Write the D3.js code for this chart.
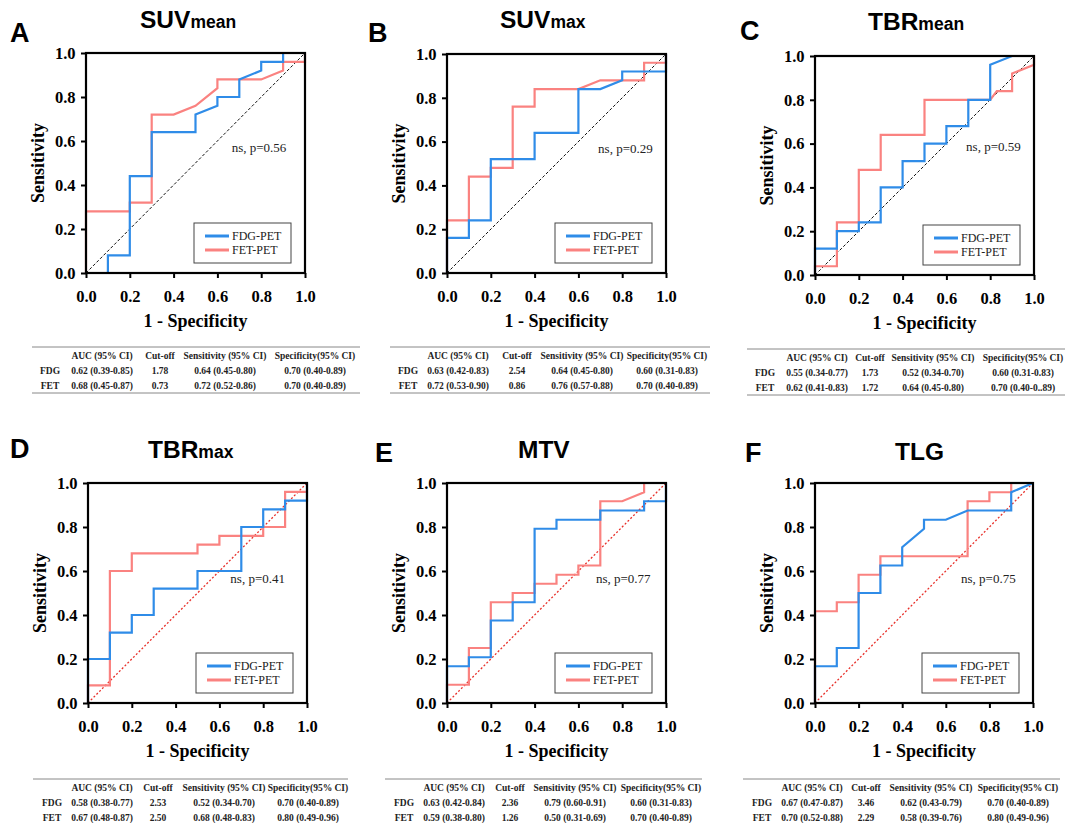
<!DOCTYPE html>
<html><head><meta charset="utf-8">
<script src="https://cdn.jsdelivr.net/npm/d3@7"></script>
<style>body{margin:0;background:#fff}svg{display:block}</style>
</head><body>
<svg id="c" width="1065" height="823"></svg>
<script>
// ---------- DATA ----------
const panelLetters = ["A","B","C","D","E","F"];
const titleMain = ["SUV","SUV","TBR","TBR","MTV","TLG"];
const titleSub  = ["mean","max","mean","max","",""];
const pValues   = ["ns, p=0.56","ns, p=0.29","ns, p=0.59","ns, p=0.41","ns, p=0.77","ns, p=0.75"];
const seriesNames = ["FDG-PET","FET-PET"];
const tickValues = [0,0.2,0.4,0.6,0.8,1.0];
const xLabel = "1 - Specificity";
const yLabel = "Sensitivity";

// ROC curves: [1-specificity, sensitivity]
const suvMeanFDG = [[0,0],[0.1,0],[0.1,0.08],[0.2,0.08],[0.2,0.44],[0.3,0.44],[0.3,0.64],[0.5,0.64],[0.5,0.72],[0.6,0.76],[0.6,0.80],[0.7,0.80],[0.7,0.88],[0.8,0.92],[0.8,0.96],[0.9,0.96],[0.9,1],[1,1]];
const suvMeanFET = [[0,0],[0,0.28],[0.2,0.28],[0.2,0.32],[0.3,0.32],[0.3,0.72],[0.4,0.72],[0.5,0.76],[0.6,0.84],[0.6,0.88],[0.8,0.88],[0.9,0.92],[0.9,0.96],[1,0.96],[1,1]];
const suvMaxFDG = [[0,0],[0,0.16],[0.1,0.16],[0.1,0.24],[0.2,0.24],[0.2,0.52],[0.4,0.52],[0.4,0.64],[0.6,0.64],[0.6,0.84],[0.7,0.84],[0.8,0.88],[0.8,0.92],[1,0.92],[1,1]];
const suvMaxFET = [[0,0],[0,0.24],[0.1,0.24],[0.1,0.44],[0.2,0.44],[0.2,0.48],[0.3,0.48],[0.3,0.76],[0.4,0.76],[0.4,0.84],[0.6,0.84],[0.7,0.88],[0.9,0.88],[0.9,0.96],[1,0.96],[1,1]];
const tbrMeanFDG = [[0,0],[0,0.12],[0.1,0.12],[0.1,0.20],[0.2,0.20],[0.2,0.24],[0.3,0.24],[0.3,0.40],[0.4,0.40],[0.4,0.52],[0.5,0.52],[0.5,0.60],[0.6,0.60],[0.6,0.68],[0.7,0.68],[0.7,0.80],[0.8,0.80],[0.8,0.96],[0.9,1],[1,1]];
const tbrMeanFET = [[0,0],[0,0.04],[0.1,0.04],[0.1,0.24],[0.2,0.24],[0.2,0.48],[0.3,0.48],[0.3,0.64],[0.5,0.64],[0.5,0.80],[0.8,0.80],[0.83,0.84],[0.9,0.84],[0.9,0.92],[1,0.96],[1,1]];
const tbrMaxFDG = [[0,0],[0,0.20],[0.1,0.20],[0.1,0.32],[0.2,0.32],[0.2,0.40],[0.3,0.40],[0.3,0.52],[0.5,0.52],[0.5,0.60],[0.7,0.60],[0.7,0.80],[0.8,0.80],[0.8,0.88],[0.9,0.88],[0.9,0.92],[1,0.92],[1,1]];
const tbrMaxFET = [[0,0],[0,0.08],[0.1,0.08],[0.1,0.60],[0.2,0.60],[0.2,0.68],[0.5,0.68],[0.5,0.72],[0.6,0.72],[0.6,0.76],[0.8,0.76],[0.8,0.80],[0.9,0.80],[0.9,0.96],[1,0.96]];
const mtvFDG = [[0,0],[0,0.167],[0.1,0.167],[0.1,0.208],[0.2,0.208],[0.2,0.375],[0.3,0.375],[0.3,0.458],[0.4,0.458],[0.4,0.792],[0.5,0.792],[0.5,0.833],[0.7,0.833],[0.7,0.875],[0.9,0.875],[0.9,0.917],[1,0.917],[1,1]];
const mtvFET = [[0,0],[0,0.083],[0.1,0.083],[0.1,0.25],[0.2,0.25],[0.2,0.458],[0.3,0.458],[0.3,0.5],[0.4,0.5],[0.4,0.542],[0.5,0.542],[0.5,0.583],[0.6,0.583],[0.6,0.625],[0.7,0.625],[0.7,0.917],[0.8,0.917],[0.9,0.958],[0.9,1],[1,1]];
const tlgFDG = [[0,0],[0,0.167],[0.1,0.167],[0.1,0.25],[0.2,0.25],[0.2,0.5],[0.3,0.5],[0.3,0.625],[0.4,0.625],[0.4,0.708],[0.5,0.792],[0.5,0.833],[0.6,0.833],[0.7,0.875],[0.9,0.875],[0.9,0.958],[1,1]];
const tlgFET = [[0,0],[0,0.417],[0.1,0.417],[0.1,0.458],[0.2,0.458],[0.2,0.583],[0.3,0.583],[0.3,0.667],[0.7,0.667],[0.7,0.917],[0.8,0.917],[0.8,0.958],[0.9,0.958],[0.9,1],[1,1]];
const curvesFDG = [suvMeanFDG, suvMaxFDG, tbrMeanFDG, tbrMaxFDG, mtvFDG, tlgFDG];
const curvesFET = [suvMeanFET, suvMaxFET, tbrMeanFET, tbrMaxFET, mtvFET, tlgFET];

// tables
const tableHeader = ["", "AUC (95% CI)", "Cut-off", "Sensitivity (95% CI)", "Specificity(95% CI)"];
const tableRowLabels = ["FDG","FET"];
const tableAUC = [["0.62 (0.39-0.85)","0.68 (0.45-0.87)"],["0.63 (0.42-0.83)","0.72 (0.53-0.90)"],["0.55 (0.34-0.77)","0.62 (0.41-0.83)"],["0.58 (0.38-0.77)","0.67 (0.48-0.87)"],["0.63 (0.42-0.84)","0.59 (0.38-0.80)"],["0.67 (0.47-0.87)","0.70 (0.52-0.88)"]];
const tableCutoff = [["1.78","0.73"],["2.54","0.86"],["1.73","1.72"],["2.53","2.50"],["2.36","1.26"],["3.46","2.29"]];
const tableSens = [["0.64 (0.45-0.80)","0.72 (0.52-0.86)"],["0.64 (0.45-0.80)","0.76 (0.57-0.88)"],["0.52 (0.34-0.70)","0.64 (0.45-0.80)"],["0.52 (0.34-0.70)","0.68 (0.48-0.83)"],["0.79 (0.60-0.91)","0.50 (0.31-0.69)"],["0.62 (0.43-0.79)","0.58 (0.39-0.76)"]];
const tableSpec = [["0.70 (0.40-0.89)","0.70 (0.40-0.89)"],["0.60 (0.31-0.83)","0.70 (0.40-0.89)"],["0.60 (0.31-0.83)","0.70 (0.40-0..89)"],["0.70 (0.40-0.89)","0.80 (0.49-0.96)"],["0.60 (0.31-0.83)","0.70 (0.40-0.89)"],["0.70 (0.40-0.89)","0.80 (0.49-0.96)"]];

// ---------- LAYOUT ----------
const plotBox = [ // left, top, right, bottom
  [86,53,305,273],[447,54,666,273],[815,56,1034,275],
  [88,483,307,703],[447,483,666,703],[815,483,1033,703]];
const letterPos = [[10,42],[368,42],[740,40],[10,458],[375,462],[745,462]];
const titlePos = [[140,28],[500,28],[868,30],[148,458],[518,458],[895,460]];
const pPos = [[0.665,0.55],[0.69,0.55],[0.69,0.565],[0.65,0.545],[0.68,0.545],[0.67,0.545]];
const tableLayout = [ // lineLeft, lineRight, top, colCenters
  {l:32,r:360,t:347,c:[50,102,160,225,315]},
  {l:390,r:710,t:347,c:[408,458,517,582,667]},
  {l:747,r:1065,t:349,c:[765,817,870,933,1023]},
  {l:33,r:348,t:779,c:[52,102,158,224,308]},
  {l:385,r:702,t:779,c:[404,454,510,575,661]},
  {l:743,r:1060,t:779,c:[762,812,866,931,1018]}];
const colFDG = "#2f8ce8", colFET = "#fa8280";
const serif = "'Liberation Serif','Times New Roman',serif";
const sans = "'Liberation Sans',Arial,sans-serif";

const svg = d3.select("#c");

panelLetters.forEach((letter, i) => {
  const [L,T,R,B] = plotBox[i];
  const x = d3.scaleLinear().domain([0,1]).range([L,R]);
  const y = d3.scaleLinear().domain([0,1]).range([B,T]);
  const g = svg.append("g");

  // letter & title
  g.append("text").attr("x", letterPos[i][0]).attr("y", letterPos[i][1])
    .attr("font-family", sans).attr("font-weight", "bold").attr("font-size", 27).text(letter);
  const tt = g.append("text").attr("x", titlePos[i][0]).attr("y", titlePos[i][1])
    .attr("font-family", sans).attr("font-weight", "bold").attr("font-size", 24.5);
  tt.append("tspan").text(titleMain[i]);
  if (titleSub[i]) tt.append("tspan").attr("font-size", 17.5).text(titleSub[i]);

  // diagonal reference
  const ref = i < 3 ? {c:"#111", d:"3,2", w:1} : {c:"#e8302a", d:"2,2", w:1.3};
  g.append("line").attr("x1", x(0)).attr("y1", y(0)).attr("x2", x(1)).attr("y2", y(1))
    .attr("stroke", ref.c).attr("stroke-width", ref.w).attr("stroke-dasharray", ref.d);

  // curves
  const line = d3.line().x(d => x(d[0])).y(d => y(d[1]));
  g.append("path").datum(curvesFET[i]).attr("d", line).attr("fill","none")
    .attr("stroke", colFET).attr("stroke-width", 2.2);
  g.append("path").datum(curvesFDG[i]).attr("d", line).attr("fill","none")
    .attr("stroke", colFDG).attr("stroke-width", 2.2);

  // axes
  const xa = g.append("g").attr("transform", `translate(0,${B})`)
    .call(d3.axisBottom(x).tickValues(tickValues).tickFormat(d3.format(".1f")).tickSize(5).tickSizeOuter(0));
  const ya = g.append("g").attr("transform", `translate(${L},0)`)
    .call(d3.axisLeft(y).tickValues(tickValues).tickFormat(d3.format(".1f")).tickSize(5).tickSizeOuter(0));
  [xa, ya].forEach(a => {
    a.select(".domain").remove();
    a.selectAll(".tick line").attr("stroke", "#000").attr("stroke-width", 2);
    a.selectAll(".tick text").attr("font-family", serif).attr("font-weight", "bold")
      .attr("font-size", 16.5).attr("fill", "#000");
  });
  xa.selectAll(".tick text").attr("dy", "1.25em");
  ya.selectAll(".tick text").attr("dx", "-0.15em");
  // frame
  g.append("rect").attr("x", L).attr("y", T).attr("width", R-L).attr("height", B-T)
    .attr("fill","none").attr("stroke","#000").attr("stroke-width", 2.2);

  // axis labels
  g.append("text").attr("x", (L+R)/2).attr("y", B+54).attr("text-anchor","middle")
    .attr("font-family", serif).attr("font-weight","bold").attr("font-size", 18).text(xLabel);
  g.append("text").attr("transform", `translate(${L-42},${(T+B)/2}) rotate(-90)`)
    .attr("text-anchor","middle").attr("font-family", serif).attr("font-weight","bold")
    .attr("font-size", 18).text(yLabel);

  // p value
  g.append("text").attr("x", x(pPos[i][0])).attr("y", y(pPos[i][1]))
    .attr("font-family", serif).attr("font-size", 13).attr("fill","#222").text(pValues[i]);

  // legend
  const lw = 97, lh = 40, lx = R - 14 - lw, ly = B - 10 - lh;
  g.append("rect").attr("x", lx).attr("y", ly).attr("width", lw).attr("height", lh)
    .attr("fill","#fff").attr("stroke","#444").attr("stroke-width", 1);
  [colFDG, colFET].forEach((c, k) => {
    const yy = ly + 13 + k*14;
    g.append("line").attr("x1", lx+11).attr("x2", lx+35).attr("y1", yy).attr("y2", yy)
      .attr("stroke", c).attr("stroke-width", 3);
    g.append("text").attr("x", lx+38).attr("y", yy+4).attr("font-family", serif)
      .attr("font-size", 12).attr("fill","#222").text(seriesNames[k]);
  });

  // table
  const tl = tableLayout[i];
  const tg = svg.append("g").attr("font-family", serif).attr("font-weight","bold")
    .attr("font-size", 9.5).attr("fill","#222").attr("text-anchor","middle");
  tg.append("line").attr("x1", tl.l).attr("x2", tl.r).attr("y1", tl.t).attr("y2", tl.t)
    .attr("stroke","#888").attr("stroke-width",1);
  tg.append("line").attr("x1", tl.l).attr("x2", tl.r).attr("y1", tl.t+46).attr("y2", tl.t+46)
    .attr("stroke","#888").attr("stroke-width",1);
  tableHeader.forEach((h, k) => {
    tg.append("text").attr("x", tl.c[k]).attr("y", tl.t+12).text(h);
  });
  tableRowLabels.forEach((rl, r) => {
    const yy = tl.t + 27 + r*15;
    const vals = [rl, tableAUC[i][r], tableCutoff[i][r], tableSens[i][r], tableSpec[i][r]];
    vals.forEach((v, k) => tg.append("text").attr("x", tl.c[k]).attr("y", yy).text(v));
  });
});
</script>
</body></html>
